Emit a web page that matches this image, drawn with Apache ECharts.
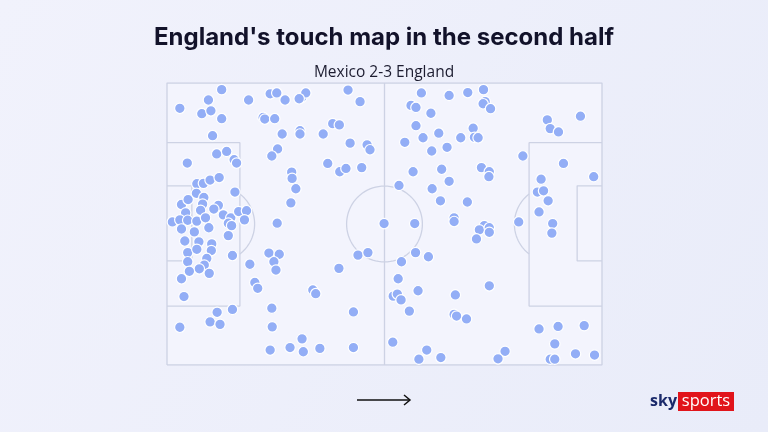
<!DOCTYPE html>
<html><head><meta charset="utf-8">
<script src="https://cdn.jsdelivr.net/npm/echarts@6/dist/echarts.min.js"></script>
<style>html,body{margin:0;padding:0;background:#eef0fb;}#c{width:768px;height:432px;}</style>
</head><body><div id="c"></div>
<script>
// Touch locations in pitch metres (x: 0-105 left to right, y: 0-68 bottom to top)
const touchX = [
13.2,10.0,3.1,8.4,10.6,13.2,19.7,24.9,26.5,28.5,32.5,33.5,31.9,43.7,46.6,23.2,23.6,26.0,11.0,32.1,32.1,27.8,37.7,40.0,41.6,44.2,48.3,49.0,12.0,14.4,16.2,16.8,4.9,26.7,25.3,38.8,41.7,43.2,47.0,30.1,30.2,31.1,29.9,7.2,8.8,10.4,12.6,16.4,26.6,
3.5,5.1,7.1,8.9,8.6,12.4,11.3,4.5,1.3,3.1,5.0,7.2,8.1,9.3,13.6,15.4,14.8,15.6,17.3,19.2,18.7,3.5,6.6,10.1,14.8,4.3,7.7,10.8,5.0,7.2,10.7,15.8,9.6,5.0,9.0,7.8,5.4,10.2,20.0,3.5,4.1,3.1,12.1,15.8,10.4,12.8,21.2,21.9,24.6,27.1,25.8,26.3,25.3,25.4,35.2,35.9,41.5,45.0,46.1,48.5,52.4,32.6,29.7,32.9,36.9,24.9,45.0,
61.4,68.1,72.6,76.4,76.8,76.3,78.1,58.9,60.1,63.7,60.1,61.8,65.6,57.4,63.9,67.6,70.9,73.9,74.2,75.1,91.8,92.5,94.5,99.8,85.9,95.7,103.0,59.4,66.3,68.1,75.9,77.8,77.7,56.0,64.0,66.0,72.5,90.3,89.4,90.9,92.0,89.8,69.3,69.3,59.8,84.9,76.6,75.4,77.8,77.8,74.7,93.1,92.9,60.0,63.1,56.6,55.8,60.6,54.6,55.6,56.5,58.5,69.6,77.8,69.3,69.9,72.3,54.5,62.7,60.8,66.1,81.6,79.9,89.8,94.4,100.7,93.6,92.5,93.6,98.6,103.2
];
const touchY = [
66.4,63.9,61.9,60.6,61.3,59.4,63.9,65.4,65.6,63.9,64.5,65.6,64.2,66.3,63.5,59.7,59.3,59.4,55.3,56.5,55.7,55.7,55.7,58.2,57.9,53.5,53.1,51.9,50.9,51.5,49.5,48.7,48.7,52.1,50.4,48.6,46.6,47.4,47.6,46.5,45.0,42.5,39.1,43.7,43.8,44.6,45.2,41.7,34.2,
38.7,39.9,41.4,40.4,38.8,38.5,37.6,36.7,34.5,35.0,34.9,34.7,37.3,35.5,36.2,35.5,34.2,33.6,37.0,37.2,35.0,32.8,32.1,33.1,31.2,29.9,29.7,29.2,27.1,27.9,27.6,26.4,25.7,24.9,24.1,23.2,22.6,22.1,24.3,20.8,16.5,9.1,12.7,13.4,10.4,9.8,19.9,18.5,27.0,26.7,24.9,22.9,13.7,9.2,18.1,17.2,23.3,12.8,26.5,27.1,34.1,6.3,4.2,3.2,4.0,3.6,4.2,
65.6,65.0,65.7,66.4,63.5,63.0,61.8,62.6,62.1,60.7,57.7,54.8,55.9,53.7,51.6,52.5,54.8,57.1,54.9,54.8,59.1,57.0,56.2,60.0,50.4,48.6,45.4,46.6,47.2,44.3,47.6,46.6,45.4,43.3,42.5,39.6,39.3,44.8,41.7,42.0,39.6,36.9,35.5,34.6,34.1,34.5,33.6,32.6,33.1,32.0,30.4,34.1,31.8,27.1,26.1,24.9,20.8,17.9,16.6,17.1,15.7,13.0,16.9,19.1,12.2,11.8,11.1,5.5,3.6,1.4,1.8,3.3,1.5,8.7,9.3,9.5,5.1,1.4,1.4,2.7,2.4
];
// Pitch geometry (metres)
const pitchLength = 105, pitchWidth = 68;
const boxDepth = 17.6, boxBottom = 14.2, boxTop = 53.6;
const sixDepth = 6.0, sixBottom = 25.1, sixTop = 43.2;
const circleRadius = 9.15, spotDist = 12.0;

const title = "England's touch map in the second half";
const subtitle = "Mexico 2-3 England";

const lineColor = '#cdd2e4';
function lineSeries(pts){
  return {type:'line', data:pts, symbol:'none', silent:true, z:1,
    lineStyle:{color:lineColor, width:1.3}, animation:false};
}
function arc(cx, cy, r, a0, a1){
  const pts=[]; const n=80;
  for(let i=0;i<=n;i++){const a=a0+(a1-a0)*i/n; pts.push([cx+r*Math.cos(a), cy+r*Math.sin(a)]);}
  return pts;
}
const L=pitchLength, W=pitchWidth;
const series = [
  lineSeries([[0,0],[L,0],[L,W],[0,W],[0,0]]),
  lineSeries([[L/2,0],[L/2,W]]),
  lineSeries(arc(L/2,W/2,circleRadius,0,Math.PI*2)),
  lineSeries([[0,boxBottom],[boxDepth,boxBottom],[boxDepth,boxTop],[0,boxTop]]),
  lineSeries([[L,boxBottom],[L-boxDepth,boxBottom],[L-boxDepth,boxTop],[L,boxTop]]),
  lineSeries([[0,sixBottom],[sixDepth,sixBottom],[sixDepth,sixTop],[0,sixTop]]),
  lineSeries([[L,sixBottom],[L-sixDepth,sixBottom],[L-sixDepth,sixTop],[L,sixTop]]),
];
const dA = Math.acos((boxDepth-spotDist)/circleRadius);
series.push(lineSeries(arc(spotDist,W/2,circleRadius,-dA,dA)));
series.push(lineSeries(arc(L-spotDist,W/2,circleRadius,Math.PI-dA,Math.PI+dA)));
series.push({
  type:'scatter', z:5, animation:false,
  data: touchX.map((x,i)=>[x,touchY[i]]),
  symbolSize:10.5,
  itemStyle:{color:'#93aef6', borderColor:'#ffffff', borderWidth:1.2, opacity:1}
});

const chart = echarts.init(document.getElementById('c'), null, {renderer:'canvas'});
chart.setOption({
  backgroundColor:{type:'linear',x:0,y:0,x2:1,y2:1,colorStops:[{offset:0,color:'#f1f2fc'},{offset:1,color:'#e9ecf9'}]},
  title:[
    {text:title, left:'center', top:21, textStyle:{fontFamily:'Inter', fontWeight:700, fontSize:24, color:'#12122a'}},
    {text:subtitle, left:'center', top:60, textStyle:{fontFamily:'Open Sans', fontWeight:400, fontSize:15.5, color:'#1c1c30'}}
  ],
  grid:{left:167, right:166, top:83, bottom:67, show:true, backgroundColor:'#f3f4fd', borderWidth:0},
  xAxis:{type:'value', min:0, max:L, show:false},
  yAxis:{type:'value', min:0, max:W, show:false},
  series: series,
  graphic:[
    {type:'line', shape:{x1:357,y1:400,x2:410,y2:400}, style:{stroke:'#111', lineWidth:1.5}},
    {type:'polyline', shape:{points:[[404,395],[410,400],[404,405]]}, style:{stroke:'#111', lineWidth:1.5, fill:null}},
    {type:'text', x:650, y:401, style:{text:'sky', font:'bold 16px "Open Sans"', fill:'#1b2a6b', verticalAlign:'middle'}},
    {type:'rect', shape:{x:678,y:392,width:56,height:19}, style:{fill:'#e1141b'}},
    {type:'text', x:706, y:401, style:{text:'sports', font:'16.5px "Open Sans"', fill:'#ffffff', align:'center', verticalAlign:'middle'}}
  ]
});
</script></body></html>
